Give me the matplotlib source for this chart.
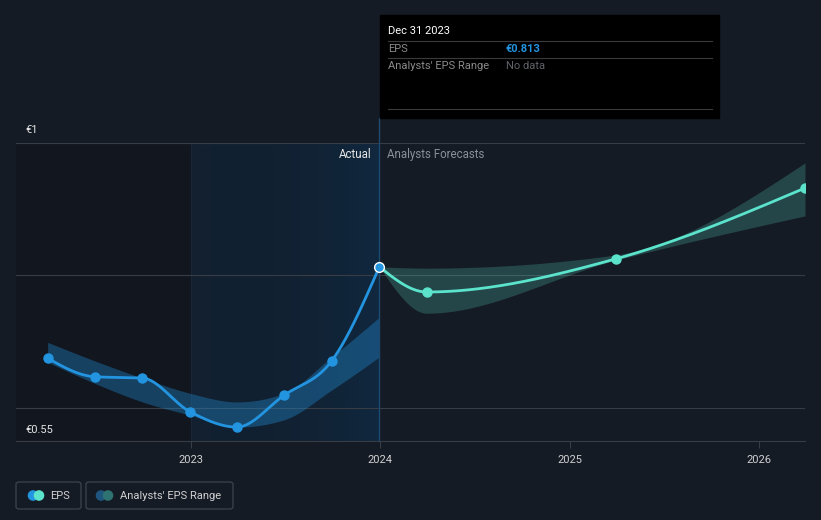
import numpy as np
import pandas as pd
import matplotlib
matplotlib.use('Agg')
import matplotlib.pyplot as plt
import matplotlib.dates as mdates
from matplotlib.patches import FancyBboxPatch, Rectangle, Circle
from matplotlib.colors import LinearSegmentedColormap

plt.rcParams['font.family'] = ['Roboto', 'DejaVu Sans']

# actual EPS (quarterly)
actual_dates = ['2022-03-31', '2022-06-30', '2022-09-30', '2022-12-31',
                '2023-03-31', '2023-06-30', '2023-09-30', '2023-12-31']
actual_eps = [0.675, 0.647, 0.645, 0.594, 0.571, 0.619, 0.671, 0.813]
past_range_hi = [0.699, 0.671, 0.645, 0.622, 0.609, 0.622, 0.677, 0.737]
past_range_lo = [0.669, 0.637, 0.609, 0.589, 0.571, 0.582, 0.627, 0.677]

# analysts forecasts
fc_dates = ['2023-12-31', '2024-03-31', '2025-03-31', '2026-03-31']
fc_eps = [0.813, 0.775, 0.825, 0.932]
fc_hi = [0.813, 0.811, 0.831, 0.970]
fc_lo = [0.813, 0.743, 0.823, 0.890]

year_ticks = ['2023', '2024', '2025', '2026']

BG = '#151b25'
DARK = '#11161f'
BLUE = '#2394df'
TEAL = '#5be3cc'
GRID = '#373c45'
W, H = 821, 520


def monotone(x, y, n=300):
    # monotone cubic (Steffen) like d3 curveMonotoneX
    x = np.asarray(x, float)
    y = np.asarray(y, float)
    h = np.diff(x)
    s = np.diff(y) / h
    m = np.zeros_like(y)
    for i in range(1, len(y) - 1):
        p = (s[i - 1] * h[i] + s[i] * h[i - 1]) / (h[i - 1] + h[i])
        m[i] = (np.sign(s[i - 1]) + np.sign(s[i])) * min(abs(s[i - 1]), abs(s[i]), 0.5 * abs(p))
    m[0] = (3 * s[0] - m[1]) / 2 if len(y) > 2 else s[0]
    m[-1] = (3 * s[-1] - m[-2]) / 2 if len(y) > 2 else s[-1]
    xs, ys = [], []
    for i in range(len(h)):
        t = np.linspace(0, 1, n)
        h00 = 2 * t**3 - 3 * t**2 + 1
        h10 = t**3 - 2 * t**2 + t
        h01 = -2 * t**3 + 3 * t**2
        h11 = t**3 - t**2
        xs.append(x[i] + t * h[i])
        ys.append(h00 * y[i] + h10 * h[i] * m[i] + h01 * y[i + 1] + h11 * h[i] * m[i + 1])
    return np.concatenate(xs), np.concatenate(ys)


ad = mdates.date2num(pd.to_datetime(actual_dates))
fd = mdates.date2num(pd.to_datetime(fc_dates))
yt = mdates.date2num(pd.to_datetime([y + '-01-01' for y in year_ticks]))

fig = plt.figure(figsize=(W / 100, H / 100), dpi=100, facecolor=BG)
ax = fig.add_axes([16 / W, 1 - 441 / H, (805 - 16) / W, (441 - 143) / H])
ax.set_facecolor(BG)
x0 = mdates.date2num(pd.Timestamp('2022-01-29'))
x1 = mdates.date2num(pd.Timestamp('2026-03-31'))
ax.set_xlim(x0, x1)
ax.set_ylim(0.55, 1.0)

# shaded past regions
ax.axvspan(x0, yt[0], color=DARK, zorder=0, lw=0)
grad = np.linspace(0, 1, 256).reshape(1, -1) ** 2.5
cmap = LinearSegmentedColormap.from_list('hl', ['#122030', '#10283f'])
ax.imshow(grad, extent=[yt[0], ad[-1], 0.55, 1.0], aspect='auto', cmap=cmap,
          zorder=0.5, origin='lower')
ax.axvline(yt[0], color='#182636', lw=0.8, zorder=0.6)

for v in [1.0, 0.8, 0.6]:
    ax.axhline(v, color=GRID, lw=0.8, zorder=1)

# past analyst range
bx, bh = monotone(ad, past_range_hi)
_, bl = monotone(ad, past_range_lo)
ax.fill_between(bx, bl, bh, color=BLUE, alpha=0.35, lw=0, zorder=2)

# forecast range
fx, fh = monotone(fd, fc_hi)
_, fl = monotone(fd, fc_lo)
ax.fill_between(fx, fl, fh, color=TEAL, alpha=0.22, lw=0, zorder=2)

# lines
lx, ly = monotone(ad, actual_eps)
ax.plot(lx, ly, color=BLUE, lw=2, zorder=3, solid_capstyle='round')
ax.plot(ad[:-1], actual_eps[:-1], 'o', color=BLUE, ms=6.5, zorder=4)
gx, gy = monotone(fd, fc_eps)
ax.plot(gx, gy, color=TEAL, lw=2, zorder=3, solid_capstyle='round')
ax.plot(fd[1:], fc_eps[1:], 'o', color=TEAL, ms=6.5, zorder=4)
ax.plot(ad[-1], actual_eps[-1], 'o', color=BLUE, ms=7, mec='white', mew=1, zorder=5)

# marker line from the tooltip down to the axis
ax.plot([ad[-1], ad[-1]], [0.55, 1.038], color='#1d4a70', lw=1, clip_on=False, zorder=2.5)

ax.text(ad[-1] - 8 / 0.518, 0.982, 'Actual', color='#e6e6e6', fontsize=8.3,
        ha='right', va='center', zorder=6)
ax.text(ad[-1] + 8 / 0.518, 0.982, 'Analysts Forecasts', color='#8a8f98',
        fontsize=8.3, ha='left', va='center', zorder=6)

for s in ['left', 'right', 'top']:
    ax.spines[s].set_visible(False)
ax.spines['bottom'].set_color(GRID)
ax.spines['bottom'].set_linewidth(0.8)
ax.set_yticks([])
ax.set_xticks(yt)
ax.set_xticklabels(year_ticks)
ax.tick_params(axis='x', colors=GRID, length=5, width=0.8, labelsize=8, pad=5,
               labelcolor='#d0d0d0')

# y labels
fig.text(25 / W, 1 - 130 / H, '€1', color='#e6e6e6', fontsize=8, va='center')
fig.text(25 / W, 1 - 430 / H, '€0.55', color='#e6e6e6', fontsize=8, va='center')

# tooltip
fig.patches.append(Rectangle((380 / W, 1 - 118 / H), 339 / W, 103 / H,
                             transform=fig.transFigure, color='black', zorder=10))
for yy in [41, 58, 109]:
    fig.lines.append(plt.Line2D([388 / W, 712 / W], [1 - yy / H] * 2, color='#3a3a3a',
                                lw=0.8, transform=fig.transFigure, zorder=11))
fig.text(388 / W, 1 - 31 / H, 'Dec 31 2023', color='white', fontsize=8, va='center', zorder=12)
fig.text(388 / W, 1 - 49 / H, 'EPS', color='#8a8a8a', fontsize=8, va='center', zorder=12)
fig.text(506 / W, 1 - 49 / H, '€%.3f' % actual_eps[-1], color=BLUE, fontsize=8,
         fontweight='bold', va='center', zorder=12)
fig.text(388 / W, 1 - 66 / H, "Analysts' EPS Range", color='#8a8a8a', fontsize=8,
         va='center', zorder=12)
fig.text(506 / W, 1 - 66 / H, 'No data', color='#5f6368', fontsize=8, va='center', zorder=12)

# legend
for bx0, bw in [(16, 65), (86, 147)]:
    fig.patches.append(FancyBboxPatch((bx0 / W, 1 - 509 / H), bw / W, 27 / H,
                                      boxstyle='round,pad=0,rounding_size=0.004',
                                      transform=fig.transFigure, fc='none',
                                      ec='#3e434c', lw=0.9))
lax = fig.add_axes([0, 0, 1, 1], facecolor='none')
lax.set_xlim(0, W)
lax.set_ylim(H, 0)
lax.axis('off')
lax.add_patch(Circle((33, 495.5), 4.6, color=BLUE))
lax.add_patch(Circle((39, 495.5), 4.6, color=TEAL))
lax.add_patch(Circle((101, 495.5), 4.6, color='#1f5680'))
lax.add_patch(Circle((108, 495.5), 4.6, color='#2f7272'))
lax.text(50, 496, 'EPS', color='#d0d0d0', fontsize=8, va='center')
lax.text(120, 496, "Analysts' EPS Range", color='#d0d0d0', fontsize=8, va='center')

fig.savefig('out.png', dpi=100, facecolor=BG)
